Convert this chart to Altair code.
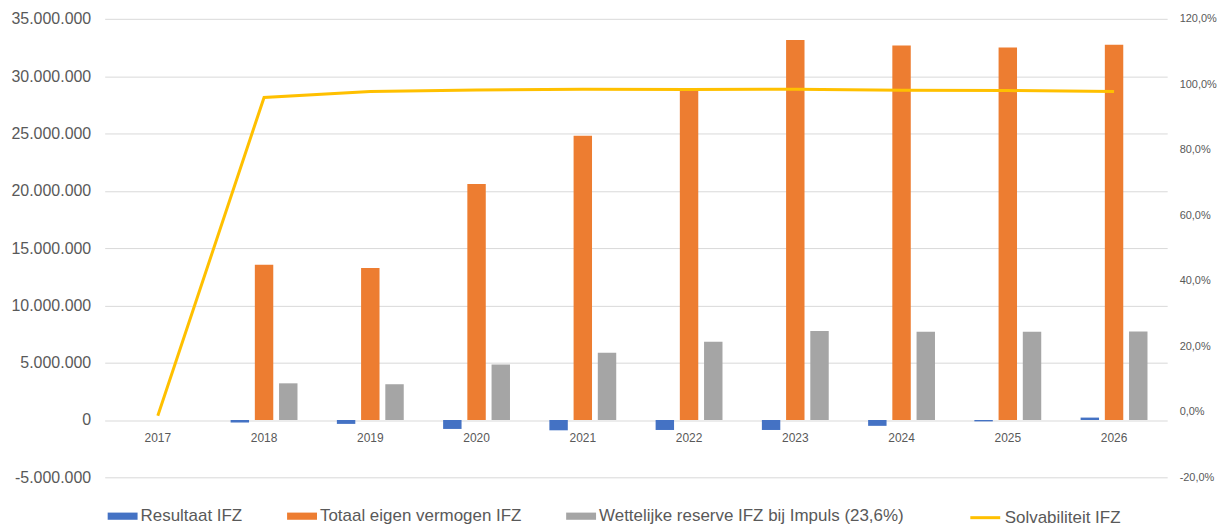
import altair as alt
import pandas as pd

# ---- data ----
years = ["2017", "2018", "2019", "2020", "2021", "2022", "2023", "2024", "2025", "2026"]
resultaat = [0, -220000, -340000, -780000, -900000, -870000, -870000, -510000, -120000, 210000]
eigen_vermogen = [0, 13550000, 13260000, 20600000, 24800000, 28900000, 33160000, 32670000, 32500000, 32730000]
wettelijke_reserve = [0, 3200000, 3120000, 4850000, 5870000, 6820000, 7770000, 7690000, 7690000, 7720000]
solvabiliteit = [-1.2, 96.0, 97.8, 98.3, 98.5, 98.4, 98.5, 98.2, 98.1, 97.8]

series_names = ["Resultaat IFZ", "Totaal eigen vermogen IFZ", "Wettelijke reserve IFZ bij Impuls (23,6%)"]
bar_colors = ["#4472C4", "#ED7D31", "#A5A5A5"]
line_name = "Solvabiliteit IFZ"
line_color = "#FFC000"

left_ticks = [-5000000, 0, 5000000, 10000000, 15000000, 20000000, 25000000, 30000000, 35000000]
right_ticks = [-20, 0, 20, 40, 60, 80, 100, 120]

rows = []
for i, yr in enumerate(years):
    for name, vals in zip(series_names, [resultaat, eigen_vermogen, wettelijke_reserve]):
        rows.append({"jaar": yr, "reeks": name, "waarde": vals[i]})
bars_df = pd.DataFrame(rows)
line_df = pd.DataFrame({"jaar": years, "reeks": [line_name] * len(years), "solv": solvabiliteit})

FONT = "Liberation Sans"
LABEL = "#595959"

x_enc = alt.X(
    "jaar:N", sort=years,
    scale=alt.Scale(paddingInner=0, paddingOuter=0),
    axis=alt.Axis(title=None, labelAngle=0, domain=False, ticks=False, grid=False,
                  offset=-57, labelPadding=12, labelFontSize=12, labelColor=LABEL, labelFont=FONT),
)

left_axis = alt.Axis(
    title=None, values=left_ticks, domain=False, ticks=False, grid=True,
    gridColor="#D9D9D9", gridWidth=1, labelFontSize=16, labelColor=LABEL, labelFont=FONT,
    labelPadding=14,
    labelExpr="(datum.value < 0 ? '-' : '') + replace(replace(format(abs(datum.value), ',.0f'), ',', '.'), ',', '.')",
)

right_axis = alt.Axis(
    title=None, orient="right", values=right_ticks, domain=False, ticks=False, grid=False,
    labelFontSize=11, labelColor=LABEL, labelFont=FONT, labelPadding=12,
    labelExpr="(datum.value < 0 ? '-' : '') + replace(format(abs(datum.value), '.1f'), '.', ',') + '%'",
)

bars = alt.Chart(bars_df).mark_bar().encode(
    x=x_enc,
    xOffset=alt.XOffset("reeks:N", sort=series_names,
                        scale=alt.Scale(paddingInner=0.239, paddingOuter=0.813)),
    y=alt.Y("waarde:Q", stack=None,
            scale=alt.Scale(domain=[-5000000, 35000000], nice=False, zero=False),
            axis=left_axis),
    color=alt.Color(
        "reeks:N", sort=series_names,
        scale=alt.Scale(domain=series_names, range=bar_colors),
        legend=alt.Legend(
            title=None, orient="none", legendX=3, legendY=484, direction="horizontal",
            symbolType="M-1,-0.24H1V0.24H-1Z", symbolSize=900, symbolStrokeWidth=0,
            labelFontSize=17, labelColor=LABEL, labelFont=FONT, labelLimit=500,
            labelOffset=3, columnPadding=44,
        ),
    ),
)

line = alt.Chart(line_df).mark_line(strokeWidth=3).encode(
    x=alt.X("jaar:N", sort=years),
    y=alt.Y("solv:Q", scale=alt.Scale(domain=[-20, 120], nice=False, zero=False), axis=right_axis),
    color=alt.Color(
        "reeks:N",
        scale=alt.Scale(domain=[line_name], range=[line_color]),
        legend=alt.Legend(
            title=None, orient="none", legendX=867, legendY=484,
            symbolType="stroke", symbolSize=900, symbolStrokeWidth=3,
            labelFontSize=17, labelColor=LABEL, labelFont=FONT, labelLimit=500, labelOffset=3,
        ),
    ),
)

chart = (
    alt.layer(bars, line)
    .resolve_scale(y="independent", color="independent")
    .properties(
        width=1066, height=460,
        padding={"left": 97, "top": 10, "right": 53, "bottom": 50},
        autosize=alt.AutoSizeParams(type="none"),
        background="white",
    )
    .configure_view(stroke=None)
)

chart.save("out.html", embed_options={"renderer": "svg", "actions": False})
